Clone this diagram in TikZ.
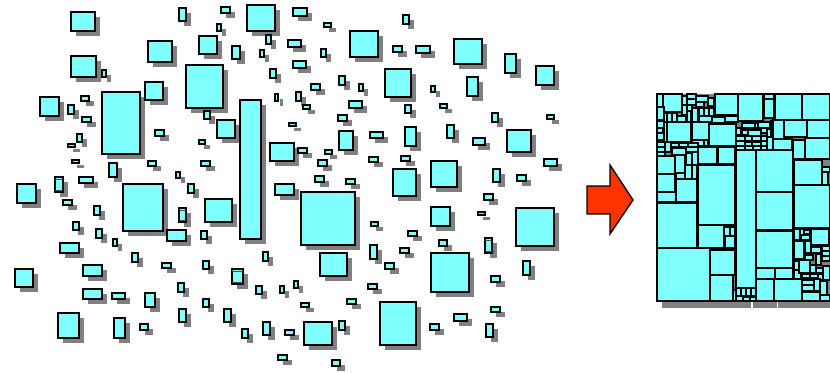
\documentclass[tikz,border=0pt]{standalone}
\usepackage{tikz}
\definecolor{boxcyan}{HTML}{80FFFF}
\definecolor{shadowgray}{HTML}{808080}
\definecolor{arrowred}{HTML}{FF3300}
\tikzset{
  blkbox/.style={fill=boxcyan,draw=black,line width=0.9pt},
  blkshadow/.style={fill=shadowgray},
  packbox/.style={fill=boxcyan,draw=black,line width=0.9pt},
  seam/.style={draw=black!70,line width=0.4pt},
}
\def\looselist{71/12/95/31, 179/8/186/21, 221/7/230/13, 247/5/275/31, 293/8/307/16,
  217/24/221/31, 148/41/172/62, 199/36/217/54, 232/46/240/59, 266/35/271/44,
  260/50/264/57, 288/40/301/47, 324/23/331/27, 403/15/409/24, 350/31/378/57,
  321/49/326/57, 393/46/402/52, 416/46/430/53, 454/39/482/64, 505/54/516/73,
  536/66/554/85, 71/56/96/77, 102/70/106/77, 186/65/223/108, 270/69/276/78,
  293/61/306/68, 385/69/411/97, 339/76/345/85, 359/84/363/91, 311/84/320/90,
  296/92/301/101, 303/105/310/109, 431/86/435/92, 467/77/478/96, 40/97/59/116,
  81/96/89/101, 102/92/140/154, 145/82/163/100, 68/105/74/114, 82/117/91/122,
  204/111/210/119, 217/120/235/138, 240/100/261/239, 275/94/278/101, 349/101/362/108,
  405/105/411/113, 440/104/447/108, 492/113/498/122, 547/115/554/119, 289/123/296/126,
  338/115/347/121, 339/131/353/150, 370/132/383/138, 405/127/416/146, 447/125/454/138,
  473/138/485/145, 507/130/531/152, 155/130/164/136, 77/134/82/142, 68/144/75/147,
  72/160/79/163, 199/140/205/144, 270/143/294/161, 298/148/307/153, 325/150/332/154,
  318/160/327/166, 369/157/378/162, 401/156/410/161, 544/159/557/166, 431/161/457/187,
  393/169/416/196, 493/169/500/182, 517/175/526/181, 315/176/324/182, 346/179/355/184,
  148/161/156/166, 201/161/210/166, 109/163/117/177, 176/172/180/178, 188/184/194/193,
  55/177/63/192, 79/177/93/183, 17/184/36/203, 123/184/163/231,
  275/184/294/195, 63/200/72/205, 94/206/100/215, 179/208/186/222,
  205/199/232/222, 73/222/79/230, 96/229/102/238, 113/239/117/246, 167/230/186/241,
  201/231/207/239, 60/243/79/253, 132/253/138/262, 162/263/171/268, 203/261/209/269,
  232/269/243/284, 263/252/268/261, 15/269/33/287, 83/265/102/276,
  83/289/102/299, 112/293/125/299, 145/293/155/307, 178/283/184/292, 256/286/262/294,
  280/286/284/293, 294/281/298/288, 203/299/209/307, 58/313/79/338, 114/318/125/338,
  140/324/148/330, 179/309/186/322, 224/309/231/322, 242/329/248/338, 263/322/270/335,
  285/330/294/335, 278/355/287/360, 301/192/355/245, 320/253/347/276, 371/222/378/226,
  408/231/417/236, 431/207/450/226, 439/240/447/246, 478/212/485/215, 484/194/493/200,
  516/208/554/246, 485/238/492/253, 523/261/530/275, 491/276/500/282,
  491/307/500/312, 486/324/493/337, 431/253/469/292, 370/245/377/259, 400/248/409/253,
  385/263/394/269, 368/284/377/289, 301/303/309/307, 347/299/356/304, 380/302/416/345,
  454/314/467/321, 430/324/439/330, 304/322/332/345, 339/321/345/330, 332/360/340/366}
\def\packlist{657/248/710/301, 657/203/697/248, 698/165/735/225, 698/225/724/248,
  724/227/730/236, 730/227/735/236, 725/236/735/248, 710/250/735/275, 710/275/733/301,
  733/290/736/301, 736/150/756/288, 736/288/741/296, 741/288/746/296, 746/288/751/296,
  751/288/756/296, 736/296/743/301, 743/297/750/301, 750/297/756/301,
  756/150/793/192, 756/192/793/230, 756/231/793/268, 756/268/775/279, 775/268/793/279,
  756/279/774/301, 774/279/802/301, 794/160/822/185, 822/167/830/172, 822/172/828/185,
  794/185/830/228, 794/229/800/240, 800/229/804/235, 804/230/810/234, 801/235/810/240,
  811/229/829/245, 794/241/804/259, 805/241/811/253, 811/247/821/253, 822/246/830/251,
  822/251/830/256, 816/254/821/265, 822/256/830/261, 805/255/813/260, 794/261/799/270,
  794/270/801/279, 799/260/810/273, 810/265/816/273, 816/268/823/273, 823/266/830/280,
  802/274/810/278, 810/274/818/278, 818/274/823/280, 802/280/814/285, 814/279/820/291,
  820/281/827/295, 802/285/814/291, 802/292/820/301, 820/295/830/301,
  738/94/763/121, 764/94/774/99, 764/99/774/118, 775/94/802/120, 802/94/830/120,
  773/120/784/139, 784/120/807/137, 807/120/830/138, 773/139/792/150, 793/140/805/159,
  805/138/830/159, 742/123/755/128, 755/123/758/128, 758/122/770/128, 771/121/773/137,
  736/128/741/135, 742/130/748/135, 748/130/761/136, 761/128/767/133, 767/129/771/137,
  736/136/745/141, 745/136/752/141, 752/136/761/141, 761/136/767/141, 767/137/773/150,
  736/141/745/146, 745/142/752/146, 752/142/761/146, 761/141/767/146, 736/146/745/150,
  745/146/753/150, 753/146/761/150, 761/146/767/150,
  657/94/663/107, 663/94/682/112, 682/96/687/105, 682/105/687/115, 687/94/696/99,
  687/99/696/105, 687/105/692/111, 692/108/698/122, 696/96/708/102, 696/102/704/107,
  708/98/714/106, 715/94/738/115, 657/107/664/120, 664/113/667/122, 667/113/672/122,
  672/113/677/122, 677/116/686/122, 687/111/691/122, 699/108/704/116, 704/108/709/116,
  709/108/714/116, 699/116/712/122, 712/117/725/123, 725/116/738/122, 657/121/664/128,
  657/128/663/133, 657/133/664/140, 664/122/667/142, 667/122/691/142, 692/122/709/140,
  709/124/736/146, 692/140/704/146, 704/140/708/146, 657/142/665/147, 665/142/671/152,
  671/143/679/147, 679/143/688/147, 688/143/698/147, 657/147/665/152, 657/152/665/156,
  672/148/686/155, 686/147/698/152, 698/147/717/164, 718/147/735/164,
  657/156/675/174, 675/155/685/173, 686/153/692/165, 692/152/698/165, 685/165/692/179,
  692/165/697/179, 657/174/675/192, 676/173/685/179, 676/179/697/202, 657/192/676/202}
\begin{document}
\begin{tikzpicture}[x=0.75pt,y=-0.75pt]
\useasboundingbox (0,0) rectangle (830,373);
\foreach \a/\b/\c/\d in \looselist {\fill[blkshadow] (\a+5,\b+5) rectangle (\c+5,\d+5);}
\foreach \a/\b/\c/\d in \looselist {\filldraw[blkbox] (\a,\b) rectangle (\c,\d);}
\draw[seam] (55,179.5) -- (63,179.5) (55,190) -- (63,190);
\draw[seam] (179,210.5) -- (186,210.5) (179,220) -- (186,220);
\draw[seam] (232,271.5) -- (243,271.5) (232,282) -- (243,282);
\draw[seam] (485,240.5) -- (492,240.5) (485,251) -- (495,251);
\filldraw[fill=arrowred,draw=black,line width=1pt] (587,186) -- (610,186) -- (610,165) -- (633,200) -- (610,234) -- (610,214) -- (587,214) -- cycle;
\fill[shadowgray] (657,94) rectangle (830,301);
\fill[shadowgray] (662,301) rectangle (830,308);
\fill[white] (751,302) rectangle (752.5,308);
\fill[white] (776.5,302) rectangle (778,308);
\foreach \a/\b/\c/\d in \packlist {\filldraw[packbox] (\a,\b) rectangle (\c,\d);}
\end{tikzpicture}
\end{document}
